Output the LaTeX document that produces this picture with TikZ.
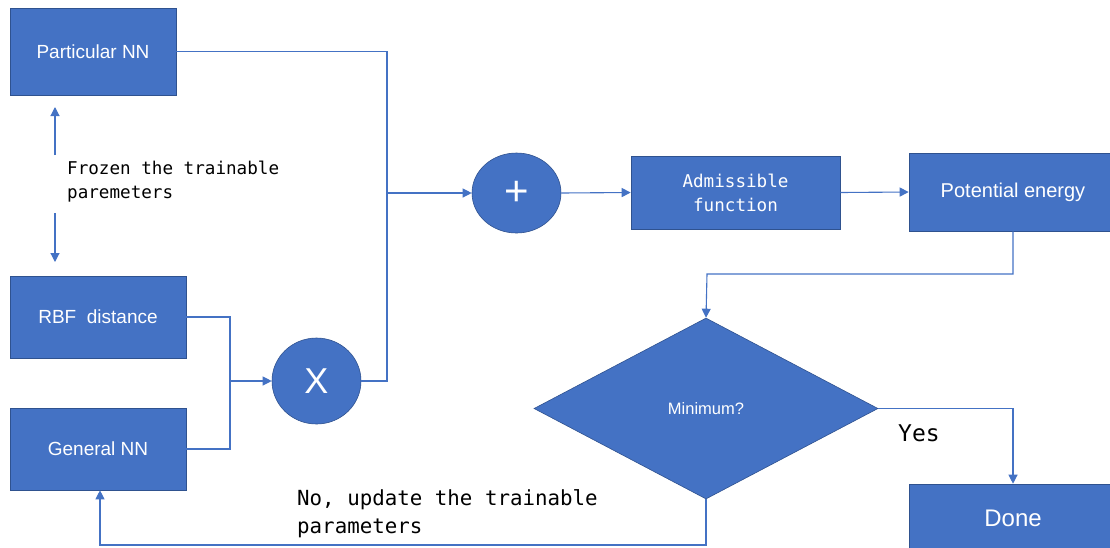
\documentclass[tikz,border=0pt]{standalone}
\usepackage{fontspec}
\setmainfont{Liberation Sans}
\newfontfamily\monof{DejaVu Sans Mono}
\usetikzlibrary{shapes.geometric,arrows.meta}
\definecolor{boxblue}{HTML}{4472C4}
\definecolor{edgeblue}{HTML}{2F528F}
\definecolor{lineblue}{HTML}{4472C4}
\begin{document}
\begin{tikzpicture}[x=1pt,y=-1pt,
  box/.style={rectangle, fill=boxblue, draw=edgeblue, line width=0.6pt, inner sep=0pt, text=white},
  circ/.style={ellipse, fill=boxblue, draw=edgeblue, line width=0.6pt, inner sep=0pt, text=white},
  conn/.style={draw=lineblue, line width=1.1pt},
  arr/.style={conn, -{Triangle[length=9pt,width=9pt]}},
  boxfont/.style={font=\fontsize{19}{23}\selectfont},
  monotext/.style={font=\monof\fontsize{17.6}{24}\selectfont, inner sep=0pt, align=left}
]
\useasboundingbox (0,0) rectangle (1110,547);
\clip (0,0) rectangle (1110,547);

% boxes
\node[box, boxfont, minimum width=166pt, minimum height=87pt] (pnn) at (93,51.5) {Particular NN};
\node[box, boxfont, minimum width=176pt, minimum height=82pt] (rbf) at (98,317) {RBF~ distance};
\node[box, boxfont, minimum width=176pt, minimum height=82pt] (gnn) at (98,449) {General NN};
\node[circ, minimum width=89pt, minimum height=86pt, font=\fontsize{36}{40}\selectfont] (x) at (316.5,381) {X};
\node[circ, minimum width=89pt, minimum height=80pt, font=\fontsize{42}{44}\selectfont] (plus) at (516.5,193) {+};
\node[box, minimum width=209pt, minimum height=73pt, font=\monof\fontsize{17.6}{24}\selectfont, align=center] (adm) at (735.5,192.5) {Admissible\\function};
\node[box, minimum width=208pt, minimum height=78pt, font=\fontsize{20}{24}\selectfont] (pe) at (1013,192) {Potential energy};
\node[diamond, fill=boxblue, draw=edgeblue, line width=0.6pt, inner sep=0pt, aspect=1.9, minimum width=344pt, minimum height=181pt, text=white, font=\fontsize{16.5}{20}\selectfont] (dia) at (706,408.5) {Minimum?};
\node[box, minimum width=208pt, minimum height=68pt, font=\fontsize{24}{28}\selectfont] (done) at (1013,518) {Done};

% labels
\node[monotext, anchor=west] (frz) at (67,182) {Frozen the trainable\\paremeters};
\node[monotext, anchor=west, font=\monof\fontsize{20.8}{28}\selectfont] (nolab) at (297,514) {No, update the trainable\\parameters};
\node[anchor=west, inner sep=0pt, font=\monof\fontsize{23}{26}\selectfont] (yes) at (898,433) {Yes};

% helper coordinates
\coordinate (jx) at (387,193);
\coordinate (jm) at (230,381);
\coordinate (c1) at (707,274);
\coordinate (c3) at (100,545);
\coordinate (fu0) at (55,155);
\coordinate (fu1) at (55,107);
\coordinate (fd0) at (55,213);
\coordinate (fd1) at (55,262);

% connectors
\draw[arr] (fu0) -- (fu1);
\draw[arr] (fd0) -- (fd1);
\draw[conn] (pnn.east) -| (jx);
\draw[conn] (x.east) -| (jx);
\draw[arr] (jx) -- (plus.west);
\draw[conn] (rbf.east) -| (jm);
\draw[conn] (gnn.east) -| (jm);
\draw[arr] (jm) -- (x.west);
\draw[arr] (plus.east) -- (adm.west);
\draw[arr] (adm.east) -- (pe.west);
\draw[arr] (pe.south) |- (c1) -- (dia.north);
\draw[arr] (dia.east) -| (done.north);
\draw[arr] (dia.south) |- (c3) -- (c3 |- gnn.south);
\end{tikzpicture}
\end{document}
